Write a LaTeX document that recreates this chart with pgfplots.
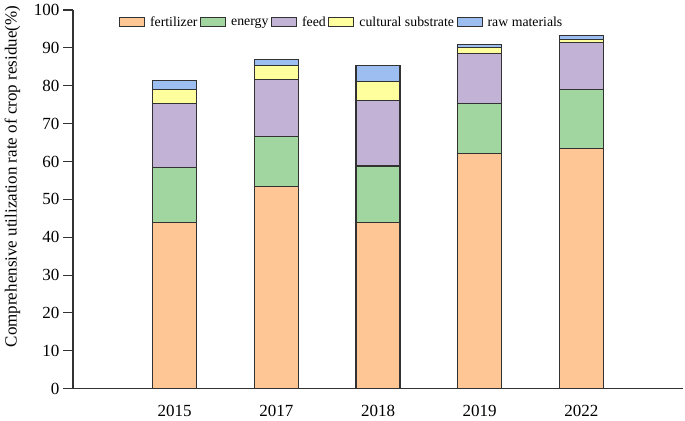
\documentclass[border=0pt]{standalone}
\usepackage{fontspec}
\setmainfont{Liberation Serif}
\usepackage{pgfplots}
\pgfplotsset{compat=1.18}

\definecolor{cfert}{RGB}{253,198,148}
\definecolor{cener}{RGB}{162,214,160}
\definecolor{cfeed}{RGB}{194,178,214}
\definecolor{ccult}{RGB}{255,255,158}
\definecolor{craw}{RGB}{157,190,240}
\definecolor{edge}{RGB}{50,50,50}

\pgfplotsset{
  boxleg/.style={legend image code/.code={\draw[##1] (0pt,-4.5pt) rectangle (25pt,4.5pt);}},
}

% year index, fertilizer, energy, feed, cultural substrate, raw materials
\pgfplotstableread{
x fert energy feed cult raw
0 43.8 14.5 16.9 3.9 2.3
1 53.4 13.1 15.2 3.7 1.6
2 43.9 14.9 17.2 5.1 4.3
3 62.0 13.3 13.2 1.7 0.7
4 63.5 15.6 12.2 1.0 0.9
}\residue

\begin{document}
\begin{tikzpicture}
\begin{axis}[
  scale only axis,
  width=610pt, height=378.7pt,
  ybar stacked,
  bar width=44pt,
  xmin=-1, xmax=5,
  ymin=0, ymax=100,
  ytick={0,10,...,100},
  xtick={0,1,2,3,4},
  xticklabels={2015,2017,2018,2019,2022},
  axis x line=bottom, axis y line=left,
  axis line style={-, line width=1.1pt, color=edge},
  x tick style={draw=none},
  y tick style={line width=1.1pt, color=edge},
  tick align=outside,
  major tick length=10pt,
  ticklabel style={font=\fontsize{17}{20}\selectfont},
  /pgf/number format/assume math mode=true,
  xticklabel style={yshift=-3pt},
  ylabel={Comprehensive utilization rate of crop residue(\%)},
  ylabel style={font=\fontsize{17}{20}\selectfont, at={(axis description cs:-0.0992,0.56)}, anchor=center},
  legend columns=-1,
  legend style={draw=none, fill=none, at={(0.075,0.988)}, anchor=north west,
    font=\fontsize{13.8}{16}\selectfont, inner sep=0pt,
    /tikz/every odd column/.append style={column sep=3pt},
    /tikz/every even column/.append style={column sep=0.5pt}},
  every axis plot/.append style={draw=edge, line width=1.1pt},
  clip=false,
]
\addplot[fill=cfert, boxleg] table[x=x, y=fert] {\residue};
\addplot[fill=cener, boxleg] table[x=x, y=energy] {\residue};
\addplot[fill=cfeed, boxleg] table[x=x, y=feed] {\residue};
\addplot[fill=ccult, boxleg] table[x=x, y=cult] {\residue};
\addplot[fill=craw, boxleg] table[x=x, y=raw] {\residue};
\legend{fertilizer, energy, feed, cultural substrate, raw materials}
\path (rel axis cs:-0.1197,-0.0721) rectangle (rel axis cs:1.0033,1.0264);
\end{axis}
\end{tikzpicture}
\end{document}
